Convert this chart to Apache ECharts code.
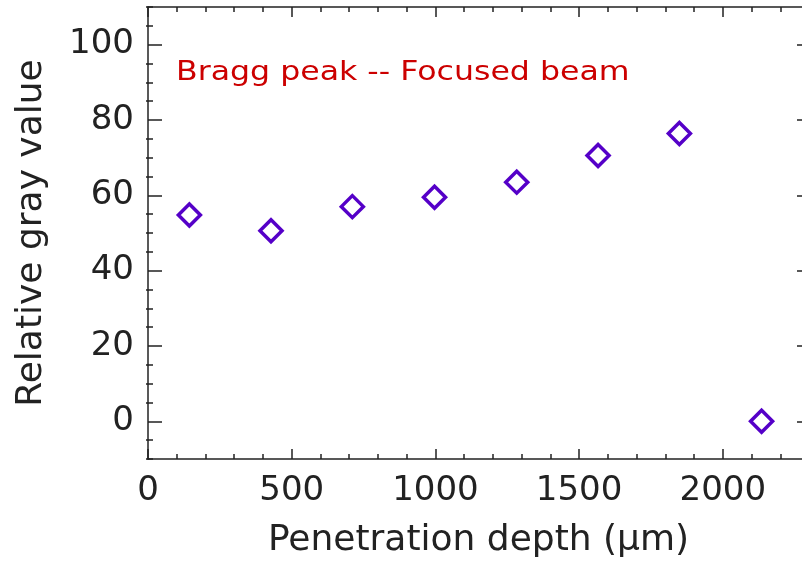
<!DOCTYPE html>
<html>
<head>
<meta charset="utf-8">
<script src="https://cdn.jsdelivr.net/npm/echarts@6/dist/echarts.min.js"></script>
<style>html,body{margin:0;padding:0;background:#fff;overflow:hidden;}#c{width:812px;height:565px;}</style>
</head>
<body>
<div id="c"></div>
<script>
const depth = [144, 428, 711, 997, 1283, 1566, 1849, 2135];
const grayValue = [54.8, 50.6, 57.0, 59.5, 63.5, 70.6, 76.4, 0];
const xTicks = [0, 500, 1000, 1500, 2000];
const yTicks = [0, 20, 40, 60, 80, 100];
const yMinorTicks = [-10, -5, 5, 10, 15, 25, 30, 35, 45, 50, 55, 65, 70, 75, 85, 90, 95, 105, 110];
const annotation = 'Bragg peak -- Focused beam';

const FONT = 'DejaVu Sans';
const AX = '#222';
const chart = echarts.init(document.getElementById('c'), null, {renderer: 'canvas'});
const lineStyle = {color: AX, width: 1.5};
const gridBox = {left: 148, right: 1, top: 7, bottom: 106};
const plotWidth = 812 - gridBox.left - gridBox.right;
const commonX = {
  type: 'value', min: 0, max: 2300, interval: 500,
  axisLine: {show: true, onZero: false, lineStyle: lineStyle},
  axisTick: {show: true, inside: true, length: 10, lineStyle: lineStyle},
  minorTick: {show: true, splitNumber: 5, length: 5, lineStyle: lineStyle},
  splitLine: {show: false}
};
chart.setOption({
  animation: false,
  backgroundColor: '#fff',
  grid: [Object.assign({}, gridBox), Object.assign({}, gridBox)],
  xAxis: [
    Object.assign({}, commonX, {
      gridIndex: 0, position: 'bottom',
      name: 'Penetration depth (μm)', nameLocation: 'middle', nameGap: 64,
      nameTextStyle: {fontFamily: FONT, fontSize: 36, color: AX},
      axisLabel: {show: true, margin: 15, fontFamily: FONT, fontSize: 34, color: AX,
        formatter: v => xTicks.includes(v) ? String(v) : ''}
    }),
    Object.assign({}, commonX, {gridIndex: 0, position: 'top', axisLabel: {show: false}}),
    {type: 'value', gridIndex: 1, min: 0, max: 2300, show: false}
  ],
  yAxis: [
    {
      type: 'value', gridIndex: 0, position: 'left', min: -10, max: 110, interval: 5,
      axisLine: {show: true, onZero: false, lineStyle: lineStyle},
      axisTick: {show: true, inside: true, length: 14, customValues: yTicks, lineStyle: lineStyle},
      splitLine: {show: false},
      name: 'Relative gray value', nameLocation: 'middle', nameGap: 98, nameRotate: 90,
      nameTextStyle: {fontFamily: FONT, fontSize: 36, color: AX},
      axisLabel: {show: true, margin: 14, fontFamily: FONT, fontSize: 34, color: AX,
        customValues: yTicks, formatter: v => String(v)}
    },
    {
      type: 'value', gridIndex: 0, position: 'right', offset: -plotWidth,
      min: -10, max: 110, interval: 5,
      axisLine: {show: false, onZero: false},
      axisTick: {show: true, inside: false, length: 7, customValues: yMinorTicks, lineStyle: lineStyle},
      axisLabel: {show: false}, splitLine: {show: false}
    },
    {
      type: 'value', gridIndex: 1, position: 'right', min: -10, max: 110, interval: 5,
      axisLine: {show: true, onZero: false, lineStyle: lineStyle},
      axisTick: {show: true, inside: true, length: 14, customValues: yTicks, lineStyle: lineStyle},
      axisLabel: {show: false}, splitLine: {show: false}
    }
  ],
  graphic: [{
    type: 'text', left: 176, top: 59, scaleX: 1.17,
    style: {text: annotation, fill: '#cc0000', font: '27px "DejaVu Sans"'}
  }],
  series: [
    {
      type: 'scatter', xAxisIndex: 0, yAxisIndex: 0,
      data: depth.map((d, i) => [d, grayValue[i]]),
      symbol: 'diamond', symbolSize: [22, 22],
      itemStyle: {color: 'rgba(0,0,0,0)', borderColor: '#5500c8', borderWidth: 3.5, opacity: 1}
    },
    {type: 'scatter', xAxisIndex: 2, yAxisIndex: 2, data: [], silent: true}
  ]
});
</script>
</body>
</html>
